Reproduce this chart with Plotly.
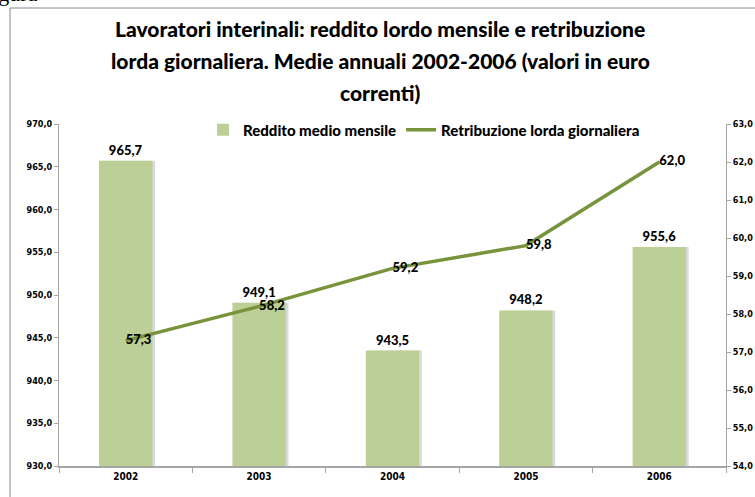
import plotly.graph_objects as go

# data
anni = ["2002", "2003", "2004", "2005", "2006"]
reddito_mensile = [965.7, 949.1, 943.5, 948.2, 955.6]
retribuzione_giornaliera = [57.3, 58.2, 59.2, 59.8, 62.0]

BAR_COLOR = "#bbcf96"
LINE_COLOR = "#77933c"
AXIS_COLOR = "#a6a6a6"
NARROW = "Liberation Sans Narrow, DejaVu Sans Condensed, Arial Narrow, sans-serif"
TICK_FONT = dict(family=NARROW, size=9, color="#000000", weight="bold")
LABEL_FONT = dict(family="Lato, Liberation Sans, sans-serif", size=13, color="#000000", weight=900)
TITLE_FONT = dict(family="Lato, Liberation Sans, sans-serif", size=21, color="#000000", weight=900)

# plot area in pixels: x 59..726, y 124..466
W, H = 755, 497
L, R, T, B = 59, 29, 124, 31
PW, PH = W - L - R, H - T - B


def px_x(px):
    return (px - L) / PW


def px_y(py):
    return (H - B - py) / PH


def fmt(v):
    return f"{v:.1f}".replace(".", ",")


heights = [v - 930 for v in reddito_mensile]

fig = go.Figure()

# soft shadow to the right of each bar
fig.add_trace(go.Bar(
    x=anni, y=heights, base=930,
    marker=dict(color="#d9d9d9", line=dict(width=0)),
    width=0.4, offset=-0.18,
    showlegend=False, hoverinfo="skip",
))
fig.add_trace(go.Bar(
    x=anni, y=heights, base=930,
    name="Reddito medio mensile",
    marker=dict(color=BAR_COLOR, line=dict(width=0)),
    width=0.4, offset=-0.2,
    text=[fmt(v) for v in reddito_mensile],
    textposition="outside", textfont=LABEL_FONT, cliponaxis=False,
))
fig.add_trace(go.Scatter(
    x=anni, y=retribuzione_giornaliera, yaxis="y2",
    name="Retribuzione lorda giornaliera",
    mode="lines+text",
    line=dict(color=LINE_COLOR, width=3.5),
    text=[fmt(v) for v in retribuzione_giornaliera],
    textposition="middle right", textfont=LABEL_FONT, cliponaxis=False,
))

fig.update_layout(
    width=W, height=H,
    margin=dict(l=L, r=R, t=T, b=B, autoexpand=False),
    paper_bgcolor="white", plot_bgcolor="white",
    barmode="overlay",
    separators=",.",
    showlegend=True,
    legend=dict(
        orientation="h", x=px_x(424), y=px_y(130),
        xanchor="center", yanchor="middle",
        font=dict(family="Lato, Liberation Sans, sans-serif", size=15,
                  color="#000000", weight=900),
        bgcolor="rgba(0,0,0,0)", itemwidth=30, tracegroupgap=0,
    ),
    xaxis=dict(
        showline=True, linecolor=AXIS_COLOR, linewidth=1.5,
        ticks="outside", tickson="boundaries", ticklen=5, tickcolor=AXIS_COLOR,
        tickfont=dict(family=NARROW, size=10, color="#000000", weight="bold"),
        showgrid=False, range=[-0.5, 4.5], automargin=False,
    ),
    yaxis=dict(
        range=[930, 970], dtick=5, tickformat=".1f",
        showline=True, linecolor=AXIS_COLOR, linewidth=1,
        ticks="outside", ticklen=4, tickcolor=AXIS_COLOR,
        tickfont=TICK_FONT, automargin=False,
        showgrid=False, zeroline=False,
    ),
    yaxis2=dict(
        range=[54, 63], dtick=1, tickformat=".1f",
        overlaying="y", side="right",
        showline=True, linecolor=AXIS_COLOR, linewidth=1,
        ticks="outside", ticklen=4, tickcolor=AXIS_COLOR,
        tickfont=TICK_FONT, automargin=False,
        showgrid=False, zeroline=False,
    ),
)

# title, one annotation per line to keep the wide line spacing
title_lines = [
    "Lavoratori interinali: reddito lordo mensile e retribuzione",
    "lorda giornaliera. Medie annuali 2002-2006 (valori in euro",
    "correnti)",
]
for line, py in zip(title_lines, [28, 60, 92]):
    fig.add_annotation(
        text=line, xref="paper", yref="paper",
        x=px_x(380), y=px_y(py), xanchor="center", yanchor="middle",
        showarrow=False, font=TITLE_FONT,
    )

# caption above the chart frame, cut off by the page edge as in the original
fig.add_annotation(
    text="Figura", xref="paper", yref="paper",
    x=px_x(40), y=px_y(8), xanchor="right", yanchor="bottom",
    showarrow=False, font=dict(family="Liberation Serif, serif", size=22, color="#000000"),
)

# chart frame
fig.add_shape(
    type="rect", xref="paper", yref="paper",
    x0=px_x(10), x1=px_x(770), y0=px_y(510), y1=px_y(8),
    line=dict(color="#868686", width=1), fillcolor="rgba(0,0,0,0)", layer="below",
)

# the page body has a default 8px margin; drop it so the figure sits at 0,0
fig.write_html(
    "out.html",
    config={"displayModeBar": False},
    post_script="document.body.style.margin='0';",
)
